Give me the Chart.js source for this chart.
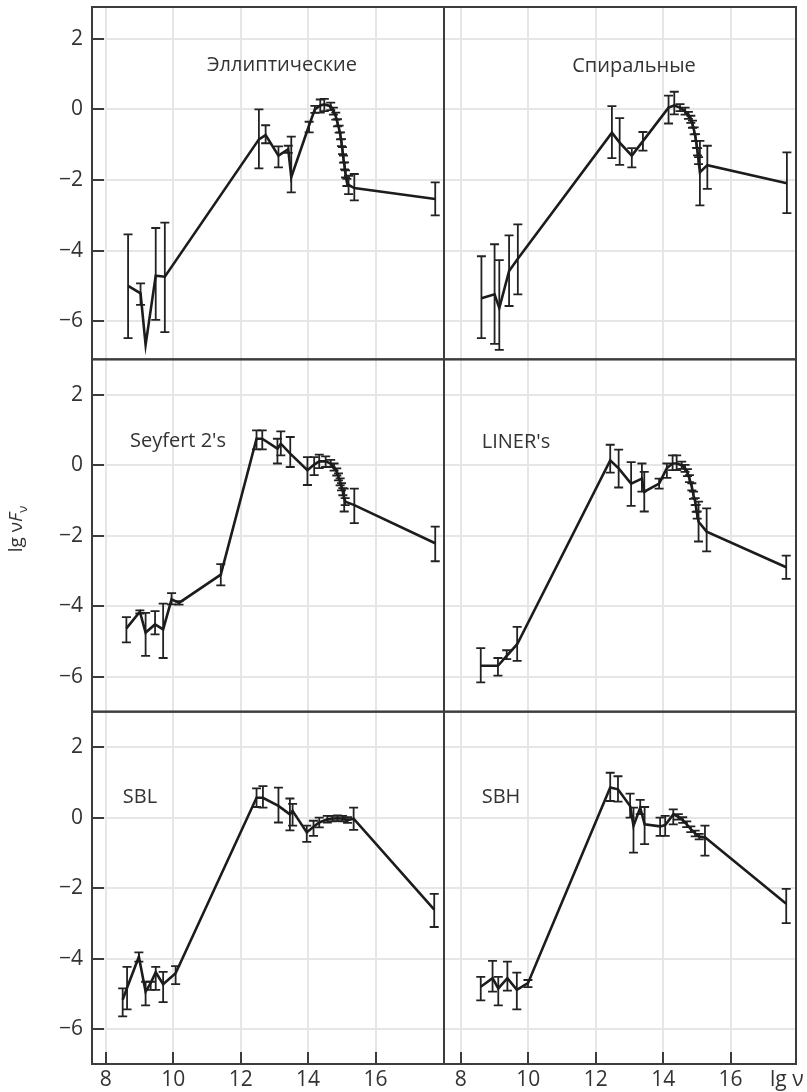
<!DOCTYPE html>
<html>
<head>
<meta charset="utf-8">
<title>SED by galaxy type</title>
<script src="https://cdn.jsdelivr.net/npm/chart.js"></script>
<style>
  body { margin: 0; background: #fff; }
</style>
</head>
<body>
<canvas id="sed" width="807" height="1092"></canvas>
<script>
// lg nu, lg nuF_nu and error bar ends (lo / hi)
const ellX  = [8.66, 9.03, 9.18, 9.48, 9.75, 12.54, 12.74, 13.12, 13.41, 13.50, 14.03, 14.20, 14.36, 14.48, 14.67, 14.75, 14.82, 14.87, 14.92, 14.96, 14.99, 15.02, 15.05, 15.08, 15.11, 15.15, 15.20, 15.37, 17.77];
const ellY  = [-5.00, -5.21, -6.67, -4.71, -4.74, -0.85, -0.73, -1.31, -1.13, -1.92, -0.45, 0.00, 0.11, 0.14, 0.09, -0.05, -0.19, -0.38, -0.56, -0.75, -0.94, -1.17, -1.41, -1.60, -1.83, -2.07, -2.14, -2.23, -2.54];
const ellLo = [-6.48, -5.54, null, -5.96, -6.31, -1.67, -0.96, -1.64, -1.23, -2.35, -0.65, -0.10, -0.09, -0.05, -0.02, -0.15, -0.29, -0.48, -0.66, -0.85, -1.04, -1.27, -1.51, -1.70, -1.93, -2.17, -2.40, -2.58, -3.00];
const ellHi = [-3.54, -4.93, null, -3.36, -3.21, 0.00, -0.45, -1.05, -1.03, -0.77, -0.35, 0.10, 0.28, 0.30, 0.19, 0.05, -0.09, -0.28, -0.46, -0.65, -0.84, -1.07, -1.31, -1.50, -1.73, -1.97, -1.88, -1.83, -2.07];

const spiX  = [8.61, 9.00, 9.14, 9.43, 9.69, 12.48, 12.71, 13.07, 13.40, 14.16, 14.33, 14.50, 14.65, 14.75, 14.82, 14.87, 14.92, 14.96, 14.99, 15.02, 15.05, 15.09, 15.31, 17.67];
const spiY  = [-5.35, -5.24, -5.63, -4.58, -4.23, -0.66, -0.94, -1.31, -0.90, 0.05, 0.11, 0.05, -0.05, -0.17, -0.28, -0.42, -0.61, -0.80, -0.99, -1.20, -1.45, -1.78, -1.58, -2.09];
const spiLo = [-6.48, -6.64, -6.81, -5.57, -5.24, -1.38, -1.57, -1.64, -1.17, -0.40, -0.14, -0.05, -0.15, -0.27, -0.38, -0.52, -0.71, -0.90, -1.09, -1.30, -1.55, -2.72, -2.25, -2.94];
const spiHi = [-4.16, -3.82, -4.27, -3.57, -3.26, 0.09, -0.25, -1.10, -0.64, 0.39, 0.50, 0.15, 0.05, -0.07, -0.18, -0.32, -0.51, -0.70, -0.89, -1.10, -1.35, -0.89, -1.03, -1.22];

const seyX  = [8.61, 9.01, 9.18, 9.46, 9.70, 9.95, 10.17, 11.41, 12.47, 12.64, 13.09, 13.19, 13.47, 13.98, 14.18, 14.33, 14.52, 14.67, 14.77, 14.85, 14.90, 14.95, 14.99, 15.03, 15.07, 15.10, 15.37, 17.77];
const seyY  = [-4.62, -4.15, -4.74, -4.51, -4.65, -3.80, -3.90, -3.10, 0.75, 0.75, 0.47, 0.61, 0.33, -0.14, 0.02, 0.11, 0.11, 0.05, -0.05, -0.19, -0.33, -0.47, -0.61, -0.75, -0.94, -1.03, -1.13, -2.21];
const seyLo = [-5.02, -4.20, -5.40, -4.79, -5.46, -3.94, -3.95, -3.40, 0.45, 0.45, 0.05, 0.28, -0.05, -0.56, -0.28, -0.08, -0.05, -0.05, -0.15, -0.29, -0.43, -0.57, -0.71, -0.85, -1.31, -1.13, -1.64, -2.72];
const seyHi = [-4.30, -4.11, -4.18, -4.13, -3.92, -3.62, -3.85, -2.80, 0.99, 0.99, 0.75, 0.96, 0.80, 0.23, 0.23, 0.30, 0.25, 0.15, 0.05, -0.09, -0.23, -0.37, -0.51, -0.65, -0.66, -0.93, -0.66, -1.74];

const linX  = [8.59, 9.10, 9.36, 9.67, 12.43, 12.68, 13.05, 13.37, 13.44, 13.88, 14.11, 14.28, 14.40, 14.55, 14.65, 14.72, 14.78, 14.85, 14.90, 14.95, 14.98, 15.01, 15.05, 15.29, 17.65];
const linY  = [-5.68, -5.68, -5.40, -5.07, 0.14, -0.09, -0.52, -0.38, -0.75, -0.52, -0.08, 0.05, 0.05, 0.00, -0.09, -0.21, -0.38, -0.61, -0.85, -1.03, -1.22, -1.41, -1.60, -1.88, -2.89];
const linLo = [-6.15, -5.96, -5.49, -5.54, -0.21, -0.63, -1.15, -0.75, -1.31, -0.66, -0.36, -0.14, -0.14, -0.10, -0.19, -0.31, -0.48, -0.71, -0.95, -1.13, -1.32, -1.51, -2.16, -2.44, -3.22];
const linHi = [-5.18, -5.46, -5.24, -4.58, 0.58, 0.44, 0.09, 0.05, -0.19, -0.38, 0.05, 0.28, 0.28, 0.10, 0.01, -0.11, -0.28, -0.51, -0.75, -0.93, -1.12, -1.31, -1.03, -1.22, -2.56];

const sblX  = [8.50, 8.63, 8.98, 9.18, 9.33, 9.48, 9.70, 10.07, 12.47, 12.66, 13.12, 13.46, 13.54, 13.96, 14.16, 14.33, 14.57, 14.72, 14.87, 15.02, 15.17, 15.35, 17.74];
const sblY  = [-5.16, -4.82, -3.94, -4.93, -4.69, -4.38, -4.72, -4.41, 0.56, 0.56, 0.33, 0.09, 0.19, -0.42, -0.26, -0.14, -0.05, -0.03, -0.02, -0.03, -0.07, -0.03, -2.61];
const sblLo = [-5.63, -5.43, -4.08, -5.32, -4.88, -4.88, -5.23, -4.72, 0.30, 0.28, -0.14, -0.36, -0.23, -0.69, -0.52, -0.28, -0.14, -0.11, -0.10, -0.11, -0.15, -0.35, -3.10];
const sblHi = [-4.84, -4.23, -3.82, -4.65, -4.65, -4.23, -4.37, -4.21, 0.83, 0.89, 0.85, 0.54, 0.39, -0.23, -0.09, 0.00, 0.05, 0.05, 0.06, 0.05, 0.01, 0.28, -2.16];

const sbhX  = [8.59, 8.94, 9.11, 9.38, 9.66, 9.99, 12.43, 12.66, 13.02, 13.12, 13.32, 13.45, 13.91, 14.06, 14.30, 14.45, 14.58, 14.70, 14.82, 14.95, 15.07, 15.24, 17.65];
const sbhY  = [-4.79, -4.55, -4.84, -4.55, -4.88, -4.69, 0.85, 0.80, 0.33, -0.23, 0.28, -0.19, -0.25, -0.21, 0.09, 0.02, -0.07, -0.19, -0.33, -0.45, -0.54, -0.56, -2.44];
const sbhLo = [-5.18, -4.93, -5.32, -4.90, -5.43, -4.80, 0.47, 0.45, 0.00, -0.99, 0.10, -0.75, -0.52, -0.52, -0.19, -0.06, -0.15, -0.27, -0.41, -0.53, -0.62, -1.08, -2.99];
const sbhHi = [-4.51, -4.06, -4.51, -4.08, -4.39, -4.60, 1.27, 1.17, 0.68, 0.28, 0.50, 0.30, 0.00, 0.05, 0.23, 0.10, 0.01, -0.11, -0.25, -0.37, -0.46, -0.23, -2.02];

const xTicks = [8, 10, 12, 14, 16];
const yTicks = [-6, -4, -2, 0, 2];

// panel layout: row/col in the grid, label offset from the panel's top-left corner
const panels = [
  {name: 'Эллиптические', x: ellX, y: ellY, lo: ellLo, hi: ellHi, row: 0, col: 0, dx: 190, dy: 64},
  {name: 'Спиральные',    x: spiX, y: spiY, lo: spiLo, hi: spiHi, row: 0, col: 1, dx: 190, dy: 65},
  {name: "Seyfert 2's",   x: seyX, y: seyY, lo: seyLo, hi: seyHi, row: 1, col: 0, dx: 86,  dy: 88},
  {name: "LINER's",       x: linX, y: linY, lo: linLo, hi: linHi, row: 1, col: 1, dx: 72,  dy: 89},
  {name: 'SBL',           x: sblX, y: sblY, lo: sblLo, hi: sblHi, row: 2, col: 0, dx: 48,  dy: 91},
  {name: 'SBH',           x: sbhX, y: sbhY, lo: sbhLo, hi: sbhHi, row: 2, col: 1, dx: 57,  dy: 91}
];

const FONT = '"Open Sans", "DejaVu Sans", sans-serif';
const INK = '#333';
const FRAME = '#3c3c3c';
const rowIds = ['y0', 'y1', 'y2'];
const colIds = ['x0', 'x1'];
const xRange = [[7.59, 18.03], [7.5, 17.94]];
const yRange = [[-7.08, 2.9], [-6.98, 3.0], [-6.98, 3.0]];

const scales = {};
colIds.forEach((id, i) => {
  scales[id] = {
    type: 'linear', position: 'bottom', stack: 'cols', stackWeight: 1, weight: i,
    min: xRange[i][0], max: xRange[i][1],
    afterBuildTicks: s => { s.ticks = xTicks.map(v => ({value: v})); },
    afterFit: s => { s.height = 28; s.paddingLeft = 0; s.paddingRight = 0; },
    grid: {color: '#e6e6e6', lineWidth: 2, drawTicks: false},
    border: {display: false},
    ticks: {color: INK, font: {family: FONT, size: 21}, padding: 3, maxRotation: 0, autoSkip: false}
  };
});
rowIds.forEach((id, i) => {
  scales[id] = {
    type: 'linear', position: 'left', stack: 'rows', stackWeight: 1, weight: 2 - i,
    min: yRange[i][0], max: yRange[i][1],
    afterBuildTicks: s => { s.ticks = yTicks.map(v => ({value: v})); },
    afterFit: s => { s.width = 92; s.paddingTop = 0; s.paddingBottom = 0; },
    grid: {color: '#e6e6e6', lineWidth: 2, drawTicks: false},
    border: {display: false},
    ticks: {color: INK, font: {family: FONT, size: 21}, padding: 9,
            callback: v => v < 0 ? '\u2212' + Math.abs(v) : String(v)}
  };
});

const datasets = [];
panels.forEach(p => {
  const xId = colIds[p.col], yId = rowIds[p.row];
  datasets.push({
    data: p.x.map((v, i) => ({x: v, y: p.y[i]})),
    xAxisID: xId, yAxisID: yId,
    borderColor: '#1c1c1c', borderWidth: 2.6, pointRadius: 0, tension: 0,
    borderJoinStyle: 'miter', fill: false
  });
  const bars = [];
  p.x.forEach((v, i) => {
    if (p.lo[i] === null) return;
    bars.push({x: v, y: p.lo[i]}, {x: v, y: p.hi[i]}, {x: v, y: null});
  });
  datasets.push({
    data: bars,
    xAxisID: xId, yAxisID: yId,
    borderColor: '#222', borderWidth: 1.8, spanGaps: false,
    pointStyle: 'line', pointRadius: 4.5, pointBorderWidth: 1.8,
    pointBorderColor: '#222', pointBackgroundColor: '#222', fill: false
  });
});

const framePlugin = {
  id: 'frame',
  afterDraw(chart) {
    const ctx = chart.ctx;
    const area = chart.chartArea;
    ctx.save();
    ctx.strokeStyle = FRAME;
    ctx.lineWidth = 2;
    ctx.beginPath();
    rowIds.forEach(id => {
      const s = chart.scales[id];
      yTicks.forEach(v => {
        const py = Math.round(s.getPixelForValue(v));
        ctx.moveTo(area.left, py);
        ctx.lineTo(area.left + 12, py);
      });
    });
    colIds.forEach(id => {
      const s = chart.scales[id];
      xTicks.forEach(v => {
        const px = Math.round(s.getPixelForValue(v));
        ctx.moveTo(px, area.bottom);
        ctx.lineTo(px, area.bottom - 12);
      });
    });
    ctx.stroke();
    rowIds.forEach(r => colIds.forEach(c => {
      const ys = chart.scales[r], xs = chart.scales[c];
      ctx.strokeRect(xs.left, ys.top, xs.width, ys.height);
    }));

    ctx.fillStyle = INK;
    ctx.font = '20px ' + FONT;
    ctx.textAlign = 'center';
    ctx.textBaseline = 'alphabetic';
    panels.forEach(p => {
      const xs = chart.scales[colIds[p.col]], ys = chart.scales[rowIds[p.row]];
      ctx.fillText(p.name, xs.left + p.dx, ys.top + p.dy);
    });

    // x axis name next to the last tick label
    ctx.textAlign = 'left';
    ctx.font = '21px ' + FONT;
    ctx.fillText('lg \u03bd', 770, 1086);

    // y axis title: lg νF_ν, rotated
    const parts = [
      {t: 'lg \u03bd', f: '19px ' + FONT, dy: 0},
      {t: 'F', f: 'italic 19px ' + FONT, dy: 0},
      {t: '\u03bd', f: '13px ' + FONT, dy: 5}
    ];
    let total = 0;
    parts.forEach(q => { ctx.font = q.f; q.w = ctx.measureText(q.t).width; total += q.w; });
    ctx.translate(22, 529);
    ctx.rotate(-Math.PI / 2);
    let cx = -total / 2;
    parts.forEach(q => { ctx.font = q.f; ctx.fillText(q.t, cx, q.dy); cx += q.w; });
    ctx.restore();
  }
};

new Chart(document.getElementById('sed'), {
  type: 'line',
  data: {datasets: datasets},
  options: {
    responsive: false,
    animation: false,
    events: [],
    layout: {padding: {left: 0, top: 7, right: 11, bottom: 0}},
    plugins: {legend: {display: false}, tooltip: {enabled: false}},
    scales: scales
  },
  plugins: [framePlugin]
});
</script>
</body>
</html>
